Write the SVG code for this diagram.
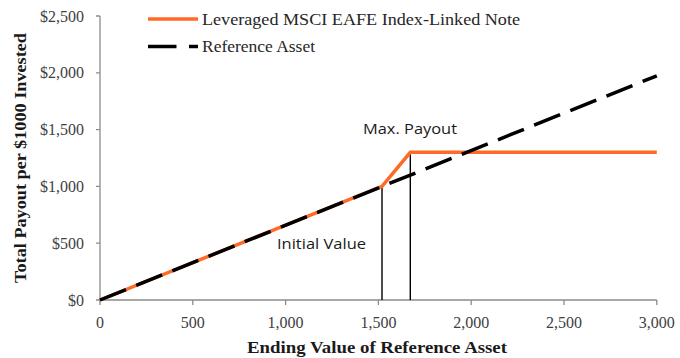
<svg xmlns="http://www.w3.org/2000/svg" width="680" height="358" viewBox="0 0 680 358">
<style>
.axis{stroke:#8c8c8c;stroke-width:1.3;fill:none}
.tick{font-family:"Liberation Serif",serif;font-size:16px;fill:#404040}
.title{font-family:"Liberation Serif",serif;font-size:16px;font-weight:bold;fill:#1a1a1a}
.leg{font-family:"Liberation Serif",serif;font-size:16px;fill:#262626}
.ann{font-family:"Open Sans","Liberation Sans",sans-serif;font-size:15px;fill:#1a1a1a}
.note{stroke:#FF6A26;stroke-width:3.5;fill:none;stroke-linejoin:miter}
.ref{stroke:#000;stroke-width:3.5;fill:none;stroke-dasharray:28 11}
.vline{stroke:#000;stroke-width:1.4}
</style>
<rect width="680" height="358" fill="#fff"/>
<g id="axes">
<path class="axis" d="M100,16V300M96,16H100M96,72.8H100M96,129.6H100M96,186.4H100M96,243.2H100M96,300H100"/>
<path class="axis" d="M100,300H656.8M100,300V305M192.8,300V305M285.6,300V305M378.4,300V305M471.2,300V305M564,300V305M656.8,300V305"/>
</g>
<g id="ytick-labels" class="tick" text-anchor="end">
<text x="84" y="21.5">$2,500</text>
<text x="84" y="78.3">$2,000</text>
<text x="84" y="135">$1,500</text>
<text x="84" y="192">$1,000</text>
<text x="84" y="248.5">$500</text>
<text x="84" y="305.5">$0</text>
</g>
<g id="xtick-labels" class="tick" text-anchor="middle">
<text x="100" y="328">0</text>
<text x="192.8" y="328">500</text>
<text x="285.6" y="328">1,000</text>
<text x="378.4" y="328">1,500</text>
<text x="471.2" y="328">2,000</text>
<text x="564" y="328">2,500</text>
<text x="656.8" y="328">3,000</text>
</g>
<text id="x-title" class="title" x="377" y="353" text-anchor="middle" textLength="260" lengthAdjust="spacingAndGlyphs">Ending Value of Reference Asset</text>
<text id="y-title" class="title" transform="translate(26,158) rotate(-90)" text-anchor="middle" textLength="250" lengthAdjust="spacingAndGlyphs">Total Payout per $1000 Invested</text>
<g id="connectors">
<line class="vline" x1="382" y1="186.4" x2="382" y2="300"/>
<line class="vline" x1="410.3" y1="152.3" x2="410.3" y2="300"/>
<polyline id="note-line" class="note" points="100,300 382,186.4 410.3,152.3 656.8,152.3"/>
<line id="ref-line" class="ref" x1="100" y1="300" x2="656.8" y2="75.8"/>
</g>
<g id="legend">
<line class="note" x1="148" y1="19" x2="198" y2="19"/>
<text class="leg" x="202" y="24.5" textLength="318" lengthAdjust="spacingAndGlyphs">Leveraged MSCI EAFE Index-Linked Note</text>
<line stroke="#000" stroke-width="3.5" x1="148" y1="46.5" x2="176.5" y2="46.5"/>
<line stroke="#000" stroke-width="3.5" x1="189" y1="46.5" x2="198" y2="46.5"/>
<text class="leg" x="202" y="52" textLength="113" lengthAdjust="spacingAndGlyphs">Reference Asset</text>
</g>
<g id="annotations">
<text class="ann" x="363" y="134" textLength="94" lengthAdjust="spacingAndGlyphs">Max. Payout</text>
<text class="ann" x="277" y="249" textLength="89" lengthAdjust="spacingAndGlyphs">Initial Value</text>
</g>
</svg>
